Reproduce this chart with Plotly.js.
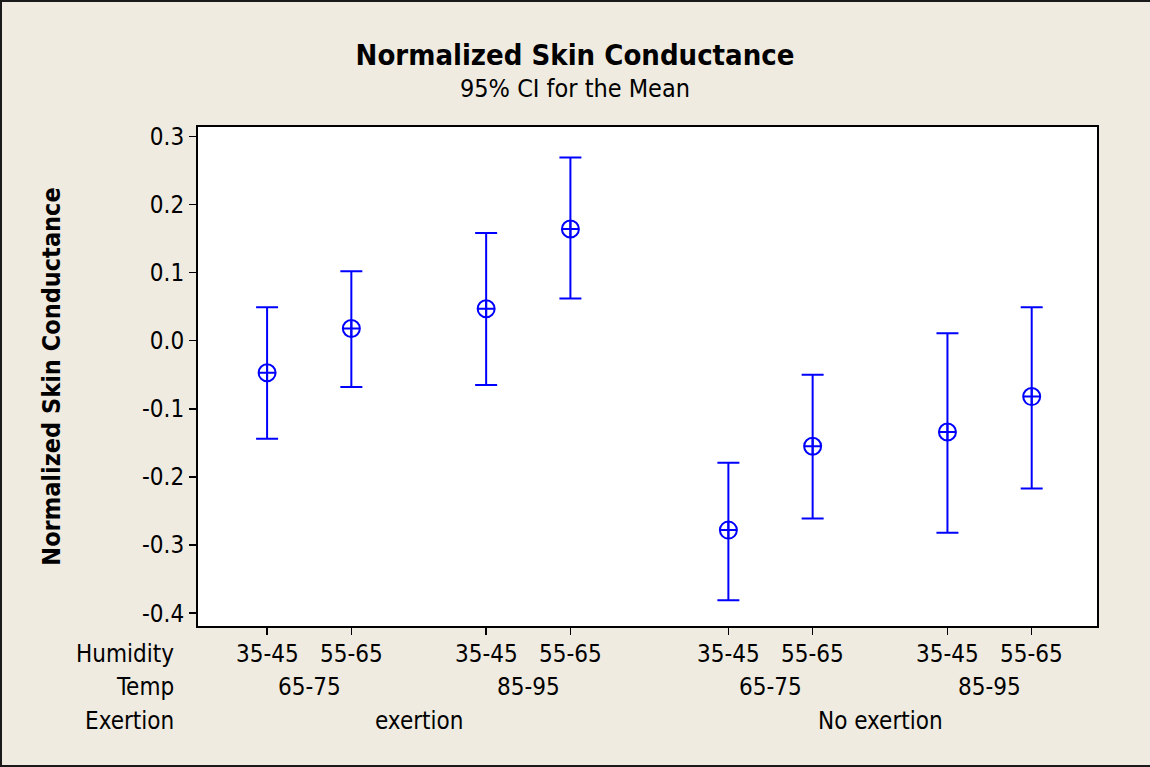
<!DOCTYPE html>
<html>
<head>
<meta charset="utf-8">
<script src="https://cdn.plot.ly/plotly-3.0.1.min.js"></script>
<style>
  html, body { margin: 0; padding: 0; background: #EFEBE1; }
  #chart { width: 1150px; height: 767px; }
</style>
</head>
<body>
<div id="chart"></div>
<script>
// ---- data ----
const humidity = ["35-45", "55-65", "35-45", "55-65", "35-45", "55-65", "35-45", "55-65"];
const temp = ["65-75", "65-75", "85-95", "85-95", "65-75", "65-75", "85-95", "85-95"];
const exertion = ["exertion", "exertion", "exertion", "exertion", "No exertion", "No exertion", "No exertion", "No exertion"];
const meanValues = [-0.047, 0.018, 0.047, 0.164, -0.278, -0.155, -0.134, -0.082];
const upperCI = [0.049, 0.102, 0.158, 0.269, -0.179, -0.050, 0.011, 0.049];
const lowerCI = [-0.144, -0.068, -0.065, 0.062, -0.381, -0.261, -0.282, -0.217];
const yTickVals = [0.3, 0.2, 0.1, 0.0, -0.1, -0.2, -0.3, -0.4];
const yTickText = ["0.3", "0.2", "0.1", "0.0", "-0.1", "-0.2", "-0.3", "-0.4"];
const rowLabels = ["Humidity", "Temp", "Exertion"];

// ---- layout helpers: grouped positions with gaps between groups ----
const tempGap = 0.6, exGap = 0.875;
const xPos = [];
for (let i = 0; i < humidity.length; i++) {
  let x = i;
  for (let j = 1; j <= i; j++) {
    if (exertion[j] !== exertion[j - 1]) x += exGap;
    else if (temp[j] !== temp[j - 1]) x += tempGap;
  }
  xPos.push(x);
}

const errPlus = meanValues.map((m, i) => upperCI[i] - m);
const errMinus = meanValues.map((m, i) => m - lowerCI[i]);

const FONT = "DejaVu Sans Condensed, DejaVu Sans, sans-serif";
const LBL = 24;
const blue = "#0000FF";

const trace = {
  type: "scatter",
  mode: "markers",
  x: xPos,
  y: meanValues,
  marker: { symbol: "circle-cross-open", size: 17, color: blue, line: { width: 2, color: blue } },
  error_y: { type: "data", symmetric: false, array: errPlus, arrayminus: errMinus, color: blue, thickness: 2, width: 11 },
  hoverinfo: "y",
  showlegend: false
};

// group label annotations
const annotations = [];
const rowShift = [-28, -61, -95];
humidity.forEach((h, i) => {
  annotations.push({ x: xPos[i], xref: "x", y: 0, yref: "paper", yshift: rowShift[0], yanchor: "middle", xanchor: "center", text: h, showarrow: false, font: { family: FONT, size: LBL, color: "#000" } });
});
function groupSpans(keyFn) {
  const spans = [];
  let start = 0;
  for (let i = 1; i <= xPos.length; i++) {
    if (i === xPos.length || keyFn(i) !== keyFn(i - 1)) {
      spans.push({ from: start, to: i - 1 });
      start = i;
    }
  }
  return spans;
}
groupSpans(i => exertion[i] + "|" + temp[i]).forEach(s => {
  annotations.push({ x: (xPos[s.from] + xPos[s.to]) / 2, xref: "x", y: 0, yref: "paper", yshift: rowShift[1], yanchor: "middle", xanchor: "center", text: temp[s.from], showarrow: false, font: { family: FONT, size: LBL, color: "#000" } });
});
groupSpans(i => exertion[i]).forEach(s => {
  annotations.push({ x: (xPos[s.from] + xPos[s.to]) / 2, xref: "x", y: 0, yref: "paper", yshift: rowShift[2], yanchor: "middle", xanchor: "center", text: exertion[s.from], showarrow: false, font: { family: FONT, size: LBL, color: "#000" } });
});
rowLabels.forEach((r, k) => {
  annotations.push({ x: 0, xref: "paper", xshift: -22, y: 0, yref: "paper", yshift: rowShift[k], yanchor: "middle", xanchor: "right", text: r, showarrow: false, font: { family: FONT, size: LBL, color: "#000" } });
});
// subtitle
annotations.push({ x: 0.5, xref: "paper", y: 1, yref: "paper", yshift: 39, xshift: -72.5, yanchor: "middle", xanchor: "center", text: "95% CI for the Mean", showarrow: false, font: { family: FONT, size: 25, color: "#000" } });

// outer frame (top, left, bottom edges of the image)
const pw = 1150 - 198 - 53, ph = 767 - 127 - 141;
const fx0 = (1 - 198) / pw, fx1 = (1150 - 198) / pw;
const fyTop = (767 - 141 - 1) / ph, fyBot = (767 - 141 - 766) / ph;
const frame = { type: "path", xref: "paper", yref: "paper",
  path: `M ${fx1} ${fyTop} L ${fx0} ${fyTop} L ${fx0} ${fyBot} L ${fx1} ${fyBot}`,
  line: { color: "#1a1a1a", width: 2 }, layer: "above" };

const layout = {
  width: 1150, height: 767,
  paper_bgcolor: "#EFEBE1",
  plot_bgcolor: "#FFFFFF",
  margin: { l: 198, r: 53, t: 127, b: 141, pad: 0 },
  font: { family: FONT, size: LBL, color: "#000" },
  title: { text: "<b>Normalized Skin Conductance</b>", x: 0.5, xref: "container", xanchor: "center", y: 1 - 55 / 767, yref: "container", yanchor: "middle", font: { family: FONT, size: 29, color: "#000" } },
  xaxis: {
    range: [-0.82, 9.85],
    tickvals: xPos, ticktext: xPos.map(() => ""),
    ticks: "outside", ticklen: 7, tickwidth: 1.5, tickcolor: "#000",
    showline: true, linecolor: "#000", linewidth: 2, mirror: true,
    showgrid: false, zeroline: false, fixedrange: true
  },
  yaxis: {
    range: [-0.4188, 0.3138],
    tickvals: yTickVals, ticktext: yTickText,
    ticks: "outside", ticklen: 7, tickwidth: 1.5, tickcolor: "#000",
    tickfont: { family: FONT, size: 24, color: "#000" },
    showline: true, linecolor: "#000", linewidth: 2, mirror: true,
    showgrid: false, zeroline: false, fixedrange: true,
    automargin: false,
    title: { text: "<b>Normalized Skin Conductance</b>", standoff: 74, font: { family: FONT, size: 25, color: "#000" } }
  },
  shapes: [frame],
  annotations: annotations
};

Plotly.newPlot("chart", [trace], layout, { displayModeBar: false, staticPlot: true });
</script>
</body>
</html>
